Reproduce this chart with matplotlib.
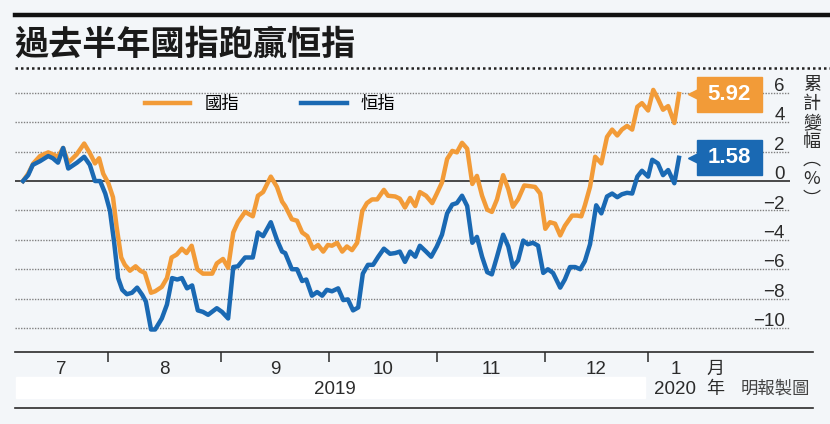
import matplotlib
matplotlib.use('Agg')
import matplotlib.pyplot as plt
from matplotlib import font_manager
from matplotlib.lines import Line2D
from matplotlib.patches import Rectangle

# 交易日序號(由2019年7月上旬起) 與 累計變幅(%)
hsce_day = [0, 1.0, 2.0, 3.3, 4.9, 5.9, 6.8, 7.8, 8.8, 10.4, 11.9, 13.0, 14.0, 14.8, 15.6,
            16.6, 17.5, 18.2, 19.1, 19.8, 20.8, 21.9, 22.8, 23.7, 24.9, 25.7, 27.0, 28.0,
            28.9, 29.9, 30.9, 31.8, 32.8, 33.9, 35.0, 36.8, 37.7, 38.9, 39.9, 40.9, 41.8,
            43.2, 44.7, 45.7, 46.7, 48.2, 49.4, 50.4, 51.0, 52.3, 53.3, 54.3, 55.3, 56.4,
            57.4, 58.4, 59.3, 60.1, 61.1, 62.1, 63.0, 64.0, 65.0, 66.0, 66.9, 67.9, 68.9,
            70.2, 71.0, 72.4, 73.3, 74.3, 75.3, 76.3, 77.2, 78.4, 79.6, 80.5, 81.5, 82.5,
            83.5, 84.4, 85.4, 86.4, 87.4, 88.3, 89.3, 90.3, 91.2, 92.2, 93.4, 94.4, 95.3,
            96.3, 97.5, 98.6, 99.6, 100.6, 101.6, 102.5, 103.5, 104.5, 105.4, 106.8, 107.8,
            108.6, 109.3, 110.3, 111.3, 112.5, 113.6, 114.6, 115.6, 116.5, 117.5, 118.5,
            119.5, 120.4, 121.6, 122.6, 123.5, 124.5, 125.5, 126.7, 127.6]
hsce = [0.0, 0.5, 1.2, 1.7, 1.95, 1.8, 1.65, 2.25, 1.25, 1.8, 2.55, 1.9, 1.2, 1.55, 0.5,
        -0.15, -1.1, -3.1, -5.2, -5.7, -6.1, -5.8, -6.1, -6.25, -7.6, -7.5, -7.2, -6.6,
        -5.2, -5.0, -4.6, -4.9, -4.4, -6.0, -6.3, -6.3, -5.6, -5.3, -5.9, -3.5, -2.8,
        -2.1, -2.4, -1.0, -0.75, 0.3, -0.4, -1.4, -1.7, -2.6, -2.7, -3.5, -3.75, -4.6,
        -4.35, -4.8, -4.35, -4.4, -4.2, -4.8, -4.45, -4.7, -4.2, -2.05, -1.5, -1.25, -1.25,
        -0.6, -1.0, -1.05, -1.2, -1.8, -1.15, -1.7, -0.75, -1.0, -1.5, -0.85, -0.1, 1.5,
        2.05, 1.95, 2.6, 2.2, -0.2, 0.35, -1.0, -1.95, -2.1, -1.25, 0.4, -0.55, -1.75,
        -1.25, -0.3, -0.35, -0.4, -0.85, -3.25, -2.8, -2.9, -3.7, -3.05, -2.35, -2.35,
        -2.4, -1.65, -0.4, 1.65, 1.2, 3.0, 3.5, 3.1, 3.5, 3.75, 3.5,
        5.05, 5.3, 4.8, 6.2, 5.6, 4.85, 5.1, 3.95, 5.92]

hsi_day = [0, 1.0, 1.9, 3.3, 4.9, 5.8, 6.8, 7.8, 8.8, 10.5, 11.9, 13.0, 14.0, 15.0, 16.0,
           16.9, 17.7, 18.5, 19.3, 20.2, 21.2, 22.2, 23.2, 23.9, 24.9, 25.7, 27.0, 28.0,
           29.0, 30.0, 30.9, 31.9, 32.9, 34.0, 35.0, 36.0, 37.7, 38.7, 39.9, 40.9, 41.8,
           43.2, 44.7, 45.7, 46.7, 48.2, 49.4, 50.4, 51.0, 52.3, 53.3, 54.3, 55.1, 56.2,
           57.2, 58.2, 59.1, 60.1, 61.3, 62.3, 63.2, 64.2, 65.2, 66.1, 67.1, 68.1, 69.1,
           70.2, 71.4, 72.4, 73.3, 74.3, 75.3, 76.3, 77.2, 78.4, 79.4, 80.5, 81.5, 82.5,
           83.5, 84.4, 85.4, 86.4, 87.4, 88.3, 89.3, 90.3, 91.2, 92.2, 93.4, 94.4, 95.3,
           96.3, 97.3, 98.2, 99.2, 100.2, 101.2, 102.1, 103.1, 104.5, 105.4, 106.4, 107.4,
           108.4, 109.3, 110.3, 111.5, 112.5, 113.6, 114.6, 115.6, 116.5, 117.5, 118.5,
           119.5, 120.4, 121.6, 122.4, 123.5, 124.5, 125.5, 126.7, 127.6]
hsi = [0.0, 0.4, 1.1, 1.35, 1.7, 1.55, 1.25, 2.25, 0.85, 1.25, 1.65, 1.1, 0.0, 0.0, -0.85,
       -2.0, -4.1, -6.6, -7.4, -7.7, -7.6, -7.25, -7.75, -8.2, -10.1, -10.1, -9.35, -8.4,
       -6.6, -6.7, -6.6, -7.3, -7.1, -8.8, -8.9, -9.1, -8.65, -8.9, -9.35, -5.85, -5.8,
       -5.2, -5.2, -3.5, -3.75, -2.8, -4.0, -4.8, -4.9, -6.0, -6.0, -6.8, -6.7, -7.8,
       -7.55, -7.8, -7.4, -7.5, -7.3, -8.1, -8.05, -8.8, -8.6, -6.3, -5.7, -5.7, -5.15,
       -4.6, -4.95, -4.9, -4.8, -5.5, -4.8, -5.15, -4.4, -4.8, -5.15, -4.45, -3.65, -2.2,
       -1.6, -1.5, -1.0, -1.7, -4.2, -3.8, -5.15, -6.2, -6.35, -5.15, -3.65, -4.45, -5.85,
       -5.4, -4.05, -4.3, -4.2, -4.4, -6.25, -6.0, -6.25, -7.25, -6.7, -5.85, -5.85,
       -6.0, -5.45, -4.3, -1.65, -2.2, -1.05, -0.85, -1.1, -0.9, -0.8, -0.85,
       0.3, 0.7, 0.3, 1.45, 1.2, 0.4, 0.75, -0.15, 1.58]

yticks = [6, 4, 2, 0, -2, -4, -6, -8, -10]
month_bounds = [16.5, 38.5, 59.5, 80.5, 101.5, 121.5]
month_names = ['7', '8', '9', '10', '11', '12', '1']
month_pos = [7.5, 27.5, 49, 70, 91, 111.5, 127]
ylabel_chars = ['累', '計', '變', '幅', '︵', '%', '︶']

ORANGE = '#f29b38'
BLUE = '#1a69b3'
BG = '#f3f6f9'
INK = '#2b2b2b'

names = {f.name for f in font_manager.fontManager.ttflist}
NUM = 'Liberation Sans Narrow' if 'Liberation Sans Narrow' in names else 'Liberation Sans'
CJK = 'Noto Sans CJK TC'
plt.rcParams['font.family'] = [NUM, CJK, 'DejaVu Sans']

W, H = 830, 424
fig = plt.figure(figsize=(W / 100, H / 100), dpi=100, facecolor=BG)


def fx(px):
    return px / W


def fy(py):
    return 1 - py / H


ax = fig.add_axes([fx(15), fy(352), fx(790) - fx(15), fy(68) - fy(352)])
ax.set_facecolor('none')
ax.set_xlim(-1.56, 149.2)
ax.set_ylim(-11.63, 7.69)
for s in ax.spines.values():
    s.set_visible(False)
ax.set_yticks([])
ax.set_xticks(month_bounds)
ax.set_xticklabels([])
ax.tick_params(axis='x', direction='out', length=7, width=1.1, color=INK)

# 格線
for v in yticks:
    if v == 0:
        ax.axhline(v, color=INK, lw=1.2, zorder=1)
    else:
        ax.axhline(v, color='#808080', lw=1.0, ls=(0, (1, 1)), zorder=1)
    lab = str(v).replace('-', '\u2212')
    ax.text(0.9935, v + 0.12, lab, transform=ax.get_yaxis_transform(), ha='right',
            va='baseline', fontsize=13.5, color=INK)

l1, = ax.plot(hsce_day, hsce, color=ORANGE, lw=3.2, solid_joinstyle='round', zorder=3)
l2, = ax.plot(hsi_day, hsi, color=BLUE, lw=3.2, solid_joinstyle='round', zorder=4)

ax.legend([l1, l2], ['國指', '恒指'], ncol=2, frameon=False, loc='center left',
          bbox_to_anchor=(0.168, 0.873), borderpad=0, borderaxespad=0,
          handlelength=2.6, handletextpad=0.8, columnspacing=3.6,
          prop={'family': CJK, 'size': 12.5})

# 最新數值標籤
for days, vals, col in [(hsce_day, hsce, ORANGE), (hsi_day, hsi, BLUE)]:
    x_end, v_end = days[-1], vals[-1]
    ax.add_patch(Rectangle((131.1, v_end - 1.19), 12.6, 2.38, color=col, zorder=5,
                           clip_on=False))
    ax.plot([130.6], [v_end], marker='<', ms=9, color=col, zorder=5, clip_on=False)
    ax.text(137.4, v_end, f'{v_end:.2f}', ha='center', va='center', color='white',
            fontsize=16, fontweight='bold', family='Liberation Sans', zorder=6)

# 月份
for p, m in zip(month_pos, month_names):
    ax.text(p, -0.063, m, transform=ax.get_xaxis_transform(), ha='center', va='center',
            fontsize=13.5, color=INK)

# 標題與線條
fig.add_artist(Line2D([fx(15), 1], [fy(15), fy(15)], color='#111111', lw=3.2))
fig.add_artist(Line2D([fx(15), 1], [fy(68), fy(68)], color='#222222', lw=1.8,
                      ls=(0, (1, 1.2))))
fig.text(fx(14), fy(44), '過去半年國指跑贏恒指', fontsize=24.6, fontweight='bold',
         family=CJK, color='#1a1a1a', va='center', ha='left')

fig.add_artist(Line2D([fx(15), fx(813)], [fy(352), fy(352)], color=INK, lw=1.2))
fig.add_artist(Line2D([fx(15), fx(813)], [fy(408), fy(408)], color=INK, lw=1.2))
fig.patches.append(Rectangle((fx(16), fy(398)), fx(645) - fx(16), fy(377) - fy(398),
                             transform=fig.transFigure, color='white', zorder=0))

fig.text(fx(335), fy(389), '2019', fontsize=13.5, color=INK, ha='center', va='center')
fig.text(fx(675), fy(389), '2020', fontsize=13.5, color=INK, ha='center', va='center')
fig.text(fx(715), fy(389), '年', fontsize=13, family=CJK, color=INK, ha='center',
         va='center')
fig.text(fx(715), fy(369), '月', fontsize=13, family=CJK, color=INK, ha='center',
         va='center')
fig.text(fx(775), fy(389), '明報製圖', fontsize=12.5, family=CJK, color='#444444',
         ha='center', va='center')

# 縱軸標題
ylabel_y = [85, 104, 123, 142, 160, 179, 200]
for ch, py in zip(ylabel_chars, ylabel_y):
    fig.text(fx(812), fy(py), ch, fontsize=13, family=[CJK, 'DejaVu Sans'],
             color=INK, ha='center', va='center')

fig.savefig('out.png', dpi=100, facecolor=BG)
